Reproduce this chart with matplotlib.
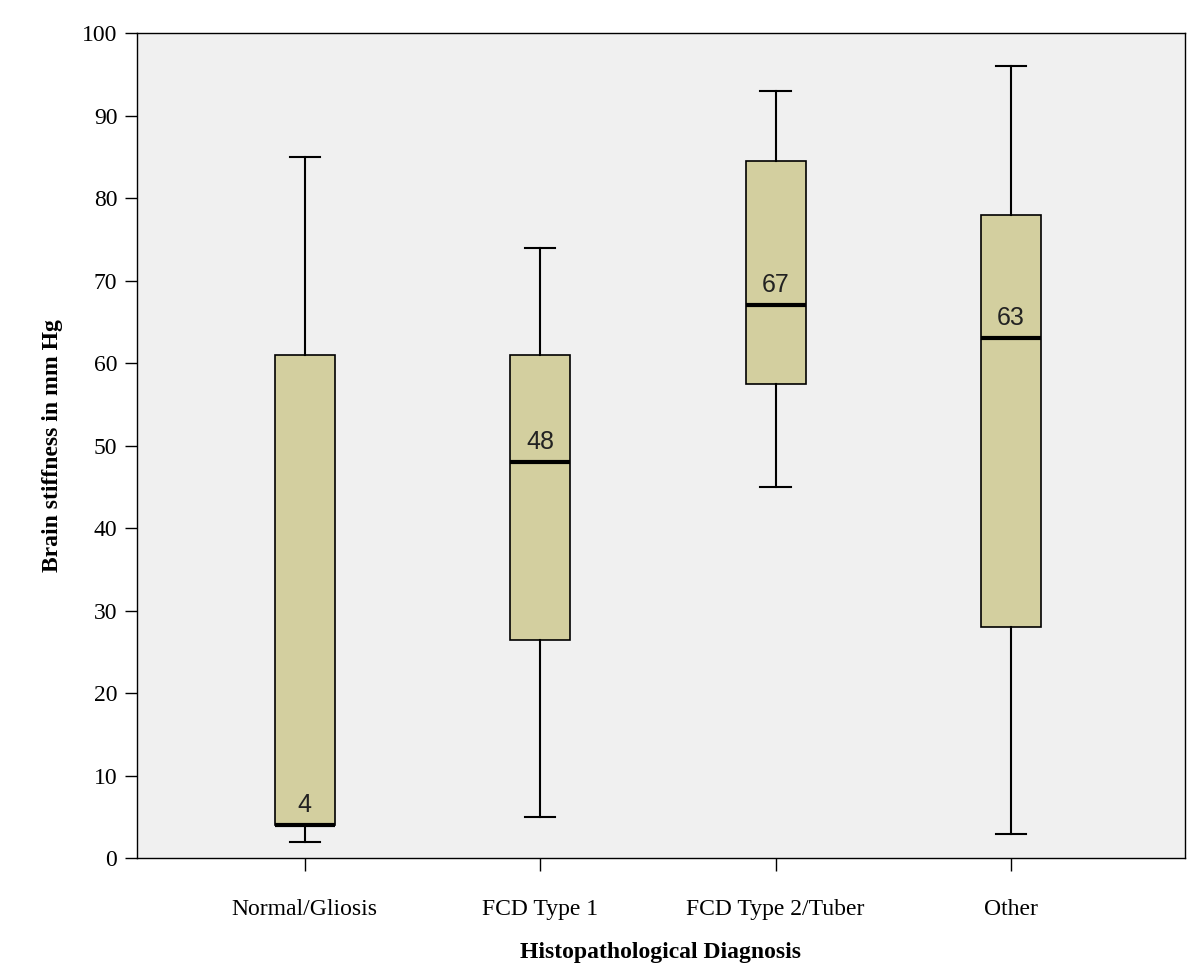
import matplotlib
matplotlib.use("Agg")
import matplotlib.pyplot as plt

categories = ["Normal/Gliosis", "FCD Type 1", "FCD Type 2/Tuber", "Other"]
whislo = [2, 5, 45, 3]
q1 = [4, 26.5, 57.5, 28]
med = [4, 48, 67, 63]
q3 = [61, 61, 84.5, 78]
whishi = [85, 74, 93, 96]

FILL = "#d3cf9f"
BG = "#f0f0f0"

fig = plt.figure(figsize=(12, 9.72), dpi=100)
ax = fig.add_axes([0.114, 0.117, 0.8735, 0.849])
ax.set_facecolor(BG)

stats = [dict(label=c, whislo=a, q1=b, med=m, q3=d, whishi=e, fliers=[])
         for c, a, b, m, d, e in zip(categories, whislo, q1, med, q3, whishi)]
pos = [1, 2, 3, 4]
ax.bxp(stats, positions=pos, widths=0.255, patch_artist=True, showfliers=False,
       boxprops=dict(facecolor=FILL, edgecolor="black", linewidth=1.2),
       medianprops=dict(color="black", linewidth=3),
       whiskerprops=dict(color="black", linewidth=1.5),
       capprops=dict(color="black", linewidth=1.5),
       capwidths=0.13)

for p, m in zip(pos, med):
    ax.text(p, m + 1.0, f"{m:g}", ha="center", va="bottom", fontsize=18,
            family="Liberation Sans", color="#222222")

ax.set_xlim(0.286, 4.74)
ax.set_ylim(0, 100)
ax.set_yticks(range(0, 101, 10))
ax.set_xticks(pos)
ax.set_xticklabels(categories)
for lab in ax.get_xticklabels() + ax.get_yticklabels():
    lab.set_family("Liberation Serif")
    lab.set_fontsize(17)
ax.tick_params(direction="out", length=9, width=1)
ax.tick_params(axis="x", pad=20)
ax.tick_params(axis="y", pad=5)
ax.set_ylabel("Brain stiffness in mm Hg", family="Liberation Serif",
              fontsize=17, fontweight="bold", labelpad=14)
ax.set_xlabel("Histopathological Diagnosis", family="Liberation Serif",
              fontsize=17, fontweight="bold", labelpad=16)
for s in ax.spines.values():
    s.set_linewidth(1)

fig.savefig("out.png", facecolor="white")
